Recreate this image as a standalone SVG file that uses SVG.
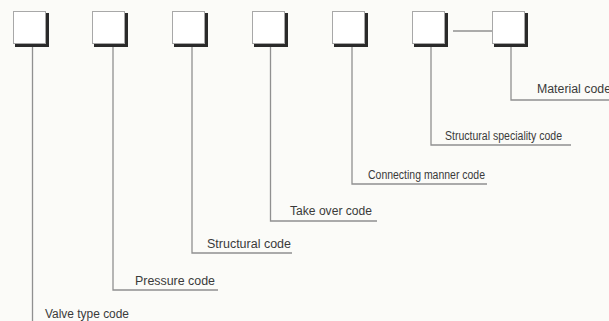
<svg xmlns="http://www.w3.org/2000/svg" width="609" height="321" viewBox="0 0 609 321">
<style>
.bg{fill:#fbfbf8}
.sh{fill:#2a2a2a}
.bx{fill:#ffffff;stroke:#a8a8a8;stroke-width:1}
.ln{fill:none;stroke:#909090;stroke-width:1.3}
.t{font-family:"Liberation Sans Narrow","Liberation Sans",Arial,sans-serif;font-size:12px;fill:#3a3a3a}
</style>
<rect class="bg" x="0" y="0" width="609" height="321"/>
<g id="connectors">
<path class="ln" d="M32.5 46V321"/>
<path class="ln" d="M113 46V290H218"/>
<path class="ln" d="M192 46V253H292"/>
<path class="ln" d="M270.5 46V221H377"/>
<path class="ln" d="M352 46V184H487"/>
<path class="ln" d="M431 46V145H571"/>
<path class="ln" d="M511 46V100H609"/>
<path class="ln" d="M453 31H492"/>
</g>
<g id="box1"><rect class="sh" x="15" y="13" width="34" height="34"/><rect class="bx" x="13.5" y="11.5" width="32" height="32"/></g>
<g id="box2"><rect class="sh" x="94" y="13" width="34" height="34"/><rect class="bx" x="92.5" y="11.5" width="32" height="32"/></g>
<g id="box3"><rect class="sh" x="174" y="13" width="34" height="34"/><rect class="bx" x="172.5" y="11.5" width="32" height="32"/></g>
<g id="box4"><rect class="sh" x="254" y="13" width="34" height="34"/><rect class="bx" x="252.5" y="11.5" width="32" height="32"/></g>
<g id="box5"><rect class="sh" x="334" y="13" width="34" height="34"/><rect class="bx" x="332.5" y="11.5" width="32" height="32"/></g>
<g id="box6"><rect class="sh" x="414" y="13" width="34" height="34"/><rect class="bx" x="412.5" y="11.5" width="32" height="32"/></g>
<g id="box7"><rect class="sh" x="494" y="13" width="34" height="34"/><rect class="bx" x="492.5" y="11.5" width="32" height="32"/></g>
<g id="labels">
<text class="t" x="537" y="93" textLength="74" lengthAdjust="spacingAndGlyphs">Material code</text>
<text class="t" x="445" y="140" textLength="117" lengthAdjust="spacingAndGlyphs">Structural speciality code</text>
<text class="t" x="368" y="179" textLength="117" lengthAdjust="spacingAndGlyphs">Connecting manner code</text>
<text class="t" x="290" y="215" textLength="82" lengthAdjust="spacingAndGlyphs">Take over code</text>
<text class="t" x="207" y="248" textLength="84" lengthAdjust="spacingAndGlyphs">Structural code</text>
<text class="t" x="135" y="285" textLength="80" lengthAdjust="spacingAndGlyphs">Pressure code</text>
<text class="t" x="45" y="318" textLength="84" lengthAdjust="spacingAndGlyphs">Valve type code</text>
</g>
</svg>
